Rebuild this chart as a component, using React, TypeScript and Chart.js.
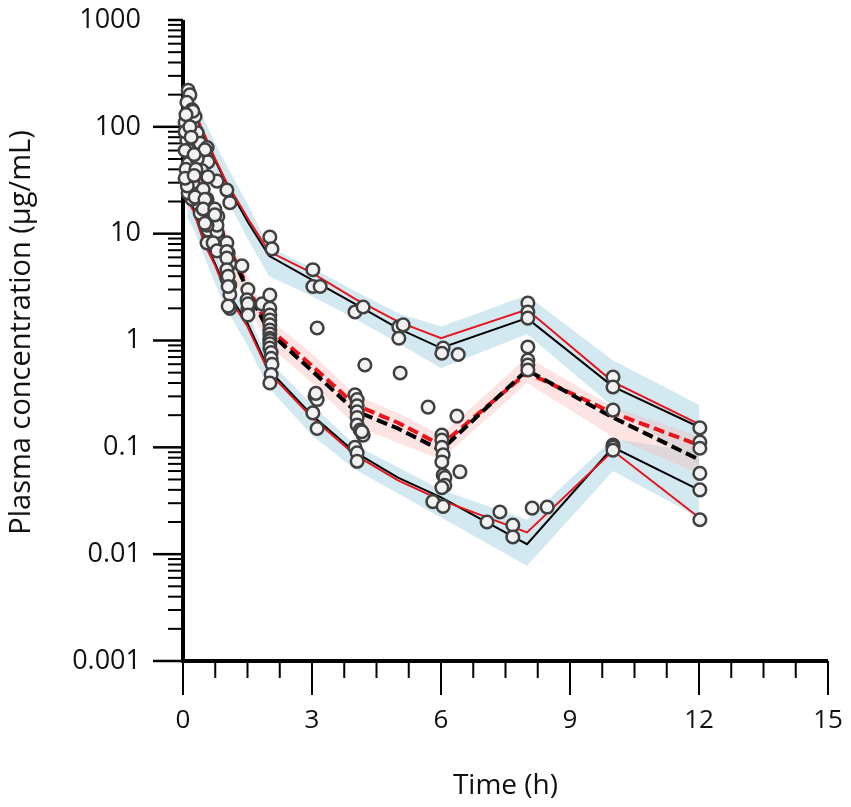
import React, { useEffect, useRef } from "react";
import { Chart, registerables } from "chart.js";

Chart.register(...registerables);

// nominal bin times (h)
const binTimes = [0.1, 0.25, 0.5, 0.75, 1, 1.5, 2, 3, 4, 5, 6, 8, 10, 12];

// percentiles of observed (red) and predicted (black) concentrations
const obsP95 = [200, 145, 85, 50, 31, 14, 6.8, 4.3, 2.45, 1.5, 1.05, 1.95, 0.41, 0.165];
const predP95 = [190, 140, 80, 48, 30, 13, 6.2, 3.7, 2.2, 1.3, 0.85, 1.62, 0.37, 0.155];
const obsP50 = [85, 58, 28, 16, 8.5, 3.2, 1.3, 0.58, 0.25, 0.17, 0.105, 0.5, 0.21, 0.105];
const predP50 = [80, 55, 27, 15, 8, 3.0, 1.2, 0.52, 0.22, 0.15, 0.094, 0.53, 0.19, 0.077];
const obsP05 = [21, 16, 8, 5.0, 2.8, 1.35, 0.5, 0.19, 0.085, 0.049, 0.032, 0.016, 0.093, 0.022];
const predP05 = [22, 17, 8.5, 5.2, 3.0, 1.45, 0.53, 0.2, 0.09, 0.052, 0.034, 0.0124, 0.1, 0.04];

// confidence bands of the predicted percentiles
const bandP95Lo = [150, 105, 60, 36, 22, 9, 4.0, 2.6, 1.6, 0.95, 0.55, 1.15, 0.24, 0.07];
const bandP95Hi = [290, 200, 115, 70, 45, 19, 7.5, 4.8, 2.9, 1.8, 1.35, 2.65, 0.65, 0.25];
const bandP50Lo = [55, 40, 19, 10.5, 5.5, 2.1, 0.9, 0.4, 0.16, 0.11, 0.077, 0.4, 0.125, 0.057];
const bandP50Hi = [110, 75, 36, 20, 10.5, 4.0, 1.6, 0.75, 0.31, 0.21, 0.13, 0.7, 0.24, 0.126];
const bandP05Lo = [14, 11, 6, 3.4, 2.0, 0.9, 0.36, 0.13, 0.062, 0.037, 0.022, 0.0078, 0.06, 0.022];
const bandP05Hi = [30, 22, 12, 6.8, 3.8, 1.8, 0.65, 0.25, 0.105, 0.065, 0.04, 0.021, 0.12, 0.09];

// observed data
const obsTime = [
  0.12, 0.16, 0.09, 0.21, 0.28, 0.05, 0.33, 0.09, 0.4, 0.56, 0.12, 0.33, 0.58, 0.12, 0.4, 0.79, 0.23, 0.47,
  1.02, 1.09, 0.21, 0.56, 0.12, 0.56, 0.4, 0.7, 0.79, 0.58, 0.79, 0.56, 0.7, 1.02, 1.05, 1.09, 1.02, 1.09,
  1.09, 1.37, 1.51, 1.49, 1.51, 1.09, 0.23, 0.51, 0.33, 0.44, 0.58, 0.28, 0.51, 0.47, 0.74, 0.81, 0.79, 0.56,
  0.74, 0.51, 0.79, 1.02, 1.02, 1.02, 1.05, 1.05, 1.05, 0.05, 0.07, 0.05, 0.07, 0.1, 0.05, 0.16, 0.19, 0.26,
  0.3, 0.26, 1.51, 1.51, 1.84,
  2.02, 2.07, 2.02, 2.02, 2.02, 2.02, 2.02, 2.02, 2.02, 2.02, 2.02, 2.02, 2.02, 2.05, 2.05, 2.07, 2.05, 2.02,
  3.02, 3.02, 3.19, 3.12, 3.07, 3.12, 3.09, 3.02, 3.12,
  4.0, 4.19, 4.23, 4.0, 4.05, 4.05, 4.05, 4.05, 4.05, 4.12, 4.19, 4.0, 4.05, 4.05, 4.16,
  5.02, 5.12, 5.02, 5.05, 5.7,
  6.05, 6.02, 6.4, 6.37, 6.44, 6.02, 6.02, 6.02, 6.05, 6.02, 6.05, 6.09, 6.09, 6.02, 5.81, 6.05,
  7.07, 7.37, 7.67, 7.67, 8.12, 8.47,
  8.02, 8.02, 8.02, 8.02, 8.02, 8.02, 8.02,
  10, 10, 10, 10, 10, 10,
  12.02, 12.02, 12.02, 12.02, 12.02, 12.02,
];
const obsConc = [
  220, 199, 170, 144, 125, 110, 88, 75, 70, 64, 61, 49, 47, 45, 37, 31, 30, 26,
  25.6, 19.5, 21, 21, 24, 17, 15.5, 17, 14.5, 10.8, 10.4, 8.2, 8.2, 8.2, 6.6, 5.2, 3.8, 3.3,
  2.7, 5.0, 3.0, 2.4, 1.95, 2.0, 140, 61, 50, 39, 34, 22, 21, 17, 17, 14.5, 12, 12,
  15, 12.5, 6.9, 6.8, 5.9, 4.6, 4.0, 3.2, 2.1, 90, 130, 60, 40, 28, 33, 100, 80, 55,
  40, 35, 2.2, 1.73, 2.2,
  9.3, 7.2, 2.66, 2.0, 1.73, 1.55, 1.4, 1.25, 1.15, 1.05, 1.0, 0.93, 0.85, 0.77, 0.68, 0.6, 0.48, 0.4,
  4.6, 3.2, 3.2, 1.31, 0.3, 0.28, 0.32, 0.21, 0.15,
  1.85, 2.06, 0.59, 0.31, 0.28, 0.245, 0.215, 0.19, 0.162, 0.145, 0.13, 0.1, 0.089, 0.074, 0.14,
  1.34, 1.4, 1.05, 0.497, 0.238,
  0.85, 0.76, 0.74, 0.196, 0.059, 0.13, 0.117, 0.1, 0.085, 0.073, 0.055, 0.052, 0.044, 0.042, 0.031, 0.028,
  0.02, 0.0248, 0.0187, 0.0145, 0.027, 0.0276,
  2.24, 1.85, 1.62, 0.87, 0.656, 0.589, 0.53,
  0.455, 0.367, 0.223, 0.105, 0.1, 0.094,
  0.152, 0.112, 0.098, 0.057, 0.04, 0.021,
];

const xTicks = [0, 3, 6, 9, 12, 15];
const yTicks = [0.001, 0.01, 0.1, 1, 10, 100, 1000];
const yTickLabels = ["0.001", "0.01", "0.1", "1", "10", "100", "1000"];
const yTitle = "Plasma concentration (µg/mL)";

const FONT = "'Open Sans', 'Noto Sans', sans-serif";
const BLUE = "rgba(160, 208, 226, 0.48)";
const PINK = "rgba(250, 185, 178, 0.38)";

const toXY = (ys: number[]) => binTimes.map((t, i) => ({ x: t, y: ys[i] }));

const band = (values: number[], fill: any, color: string, order: number) => ({
  data: toXY(values),
  borderWidth: 0,
  borderColor: "transparent",
  backgroundColor: color,
  pointRadius: 0,
  fill,
  order,
});

const line = (values: number[], color: string, width: number, dash: number[], order: number) => ({
  data: toXY(values),
  borderColor: color,
  borderWidth: width,
  borderDash: dash,
  pointRadius: 0,
  fill: false,
  order,
});

// axis lines and tick marks, drawn under the data; y title drawn at the end
const axesPlugin = {
  id: "vpcAxes",
  beforeDatasetsDraw(chart: any) {
    const { ctx, chartArea, scales } = chart;
    const { left, right, top, bottom } = chartArea;
    const x = scales.x;
    const y = scales.y;
    ctx.save();
    ctx.strokeStyle = "#000";
    ctx.lineCap = "butt";

    // y ticks
    for (let d = -3; d <= 2; d++) {
      for (let k = 2; k <= 9; k++) {
        const py = y.getPixelForValue(k * Math.pow(10, d));
        ctx.lineWidth = 2;
        ctx.beginPath();
        ctx.moveTo(left - 15, py);
        ctx.lineTo(left, py);
        ctx.stroke();
      }
    }
    yTicks.forEach((v, i) => {
      const py = y.getPixelForValue(v);
      const len = i === yTicks.length - 1 ? 15 : 30;
      ctx.lineWidth = 2.5;
      ctx.beginPath();
      ctx.moveTo(left - len, py);
      ctx.lineTo(left, py);
      ctx.stroke();
    });

    // x ticks
    for (let v = 0; v <= 15.001; v += 0.75) {
      const px = x.getPixelForValue(v);
      const major = Math.abs(v / 3 - Math.round(v / 3)) < 1e-6;
      ctx.lineWidth = 2;
      ctx.beginPath();
      ctx.moveTo(px, bottom);
      ctx.lineTo(px, bottom + (major ? 34 : 17));
      ctx.stroke();
    }

    // axis lines
    ctx.lineWidth = 4;
    ctx.beginPath();
    ctx.moveTo(left, top);
    ctx.lineTo(left, bottom + 2);
    ctx.moveTo(left - 2, bottom);
    ctx.lineTo(right, bottom);
    ctx.stroke();
    ctx.restore();
  },
  afterDraw(chart: any) {
    const { ctx, chartArea } = chart;
    ctx.save();
    ctx.translate(22, (chartArea.top + chartArea.bottom) / 2 - 8);
    ctx.rotate(-Math.PI / 2);
    ctx.font = `29px ${FONT}`;
    ctx.fillStyle = "#111";
    ctx.textAlign = "center";
    ctx.textBaseline = "middle";
    ctx.fillText(yTitle, 0, 0);
    ctx.restore();
  },
};

const VpcChart: React.FC = () => {
  const canvasRef = useRef<HTMLCanvasElement>(null);
  const chartRef = useRef<Chart | null>(null);

  useEffect(() => {
    if (!canvasRef.current) return;
    const ctx = canvasRef.current.getContext("2d");
    if (!ctx) return;
    if (chartRef.current) chartRef.current.destroy();

    chartRef.current = new Chart(ctx, {
      type: "line",
      data: {
        datasets: [
          band(bandP95Lo, false, BLUE, 10),
          band(bandP95Hi, "-1", BLUE, 10),
          band(bandP05Lo, false, BLUE, 10),
          band(bandP05Hi, "-1", BLUE, 10),
          band(bandP50Lo, false, PINK, 9),
          band(bandP50Hi, "-1", PINK, 9),
          line(predP95, "#000000", 2, [], 5),
          line(predP05, "#000000", 2, [], 5),
          line(obsP95, "#e8141c", 2, [], 4),
          line(obsP05, "#e8141c", 2, [], 4),
          line(obsP50, "#e8141c", 4, [11, 5], 3),
          line(predP50, "#000000", 4, [11, 5], 2),
          {
            type: "scatter",
            data: obsTime.map((t, i) => ({ x: t, y: obsConc[i] })),
            pointRadius: 6.3,
            pointBorderWidth: 2.5,
            pointBackgroundColor: "#f2f2f2",
            pointBorderColor: "#404040",
            showLine: false,
            clip: false,
            order: 0,
          } as any,
        ] as any,
      },
      options: {
        animation: false,
        responsive: false,
        layout: { padding: { left: 0, right: 23, top: 20, bottom: 0 } },
        plugins: {
          legend: { display: false },
          tooltip: { enabled: false },
        },
        elements: { line: { tension: 0 } },
        scales: {
          x: {
            type: "linear",
            min: 0,
            max: 15,
            afterBuildTicks: (axis: any) => {
              axis.ticks = xTicks.map((v) => ({ value: v }));
            },
            afterFit: (axis: any) => {
              axis.height = 146;
              axis.paddingLeft = 0;
              axis.paddingRight = 0;
            },
            grid: { display: false, drawTicks: false },
            border: { display: false },
            ticks: {
              autoSkip: false,
              maxRotation: 0,
              padding: 44,
              color: "#111",
              font: { family: FONT, size: 26 },
            },
            title: {
              display: true,
              text: "Time (h)",
              color: "#111",
              font: { family: FONT, size: 28 },
              padding: { top: 0, bottom: 4 },
            },
          },
          y: {
            type: "logarithmic",
            min: 0.001,
            max: 1000,
            afterBuildTicks: (axis: any) => {
              axis.ticks = yTicks.map((v) => ({ value: v, major: true }));
            },
            afterFit: (axis: any) => {
              axis.width = 183;
              axis.paddingTop = 0;
              axis.paddingBottom = 0;
            },
            grid: { display: false, drawTicks: false },
            border: { display: false },
            ticks: {
              autoSkip: false,
              padding: 42,
              color: "#111",
              font: { family: FONT, size: 27 },
              callback: (_v: any, i: number) => yTickLabels[i],
            },
            title: { display: false },
          },
        },
      },
      plugins: [axesPlugin],
    });

    return () => {
      if (chartRef.current) {
        chartRef.current.destroy();
        chartRef.current = null;
      }
    };
  }, []);

  return (
    <div style={{ position: "absolute", left: 0, top: 0, width: 851, height: 807, background: "#fff" }}>
      <canvas ref={canvasRef} width={851} height={807} style={{ width: 851, height: 807 }}></canvas>
    </div>
  );
};

export default function App() {
  return <VpcChart />;
}
